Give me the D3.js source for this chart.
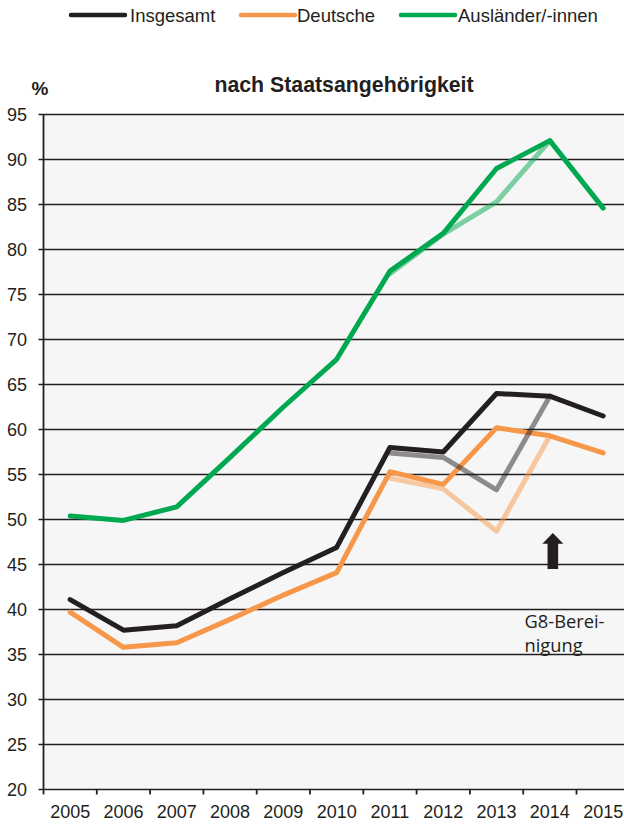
<!DOCTYPE html>
<html>
<head>
<meta charset="utf-8">
<script src="https://cdn.jsdelivr.net/npm/d3@7"></script>
<style>
  html, body { margin: 0; padding: 0; background: #ffffff; }
  svg { display: block; }
</style>
</head>
<body>
<script>
// ---- Data ----
const years = [2005, 2006, 2007, 2008, 2009, 2010, 2011, 2012, 2013, 2014, 2015];
const insgesamt  = [41.1, 37.7, 38.2, 41.2, 44.1, 46.9, 58.0, 57.5, 64.0, 63.7, 61.5];
const deutsche   = [39.7, 35.8, 36.3, 38.9, 41.6, 44.1, 55.3, 53.9, 60.2, 59.3, 57.4];
const auslaender = [50.4, 49.9, 51.4, 56.9, 62.5, 67.8, 77.6, 81.8, 89.0, 92.1, 84.6];
// values before G8 adjustment (faded lines)
const unbYears = [2011, 2012, 2013, 2014];
const insgesamtUnb  = [57.4, 56.9, 53.3, 63.7];
const deutscheUnb   = [54.6, 53.4, 48.7, 59.3];
const auslaenderUnb = [77.3, 81.7, 85.3, 92.1];
const yTicks = [20, 25, 30, 35, 40, 45, 50, 55, 60, 65, 70, 75, 80, 85, 90, 95];
const seriesNames = ["Insgesamt", "Deutsche", "Ausländer/-innen"];
const title = "nach Staatsangehörigkeit";
const unit = "%";
const noteLines = ["G8-Berei-", "nigung"];

// ---- Layout ----
const W = 624, H = 825;
const plotLeft = 43.5, bandW = 53.3;
const plotTop = 114.5, plotBottom = 789.5;
const colors = ["#231f20", "#f7974a", "#00a850"];
const ink = "#231f20";
const font = "'Liberation Sans', Arial, sans-serif";

const svg = d3.select("body").append("svg").attr("width", W).attr("height", H);

const x = d3.scaleBand().domain(years).range([plotLeft, plotLeft + bandW * years.length]).padding(0);
const y = d3.scaleLinear().domain([20, 95]).range([plotBottom, plotTop]);
const cx = d => x(d) + x.bandwidth() / 2;

// plot background
svg.append("rect")
  .attr("x", x.range()[0]).attr("y", y(95))
  .attr("width", W - x.range()[0]).attr("height", y(20) - y(95))
  .attr("fill", "#f6f6f6");

// gridlines
svg.append("g").selectAll("line").data(yTicks).join("line")
  .attr("x1", x.range()[0] - 5).attr("x2", W)
  .attr("y1", d => y(d)).attr("y2", d => y(d))
  .attr("stroke", ink).attr("stroke-width", 1.6);

// y axis line
svg.append("line")
  .attr("x1", x.range()[0]).attr("x2", x.range()[0])
  .attr("y1", y(95)).attr("y2", y(20) + 5)
  .attr("stroke", ink).attr("stroke-width", 1.8);

// x tick marks at band boundaries
svg.append("g").selectAll("line").data(years.slice(1)).join("line")
  .attr("x1", d => x(d)).attr("x2", d => x(d))
  .attr("y1", y(20)).attr("y2", y(20) + 5)
  .attr("stroke", ink).attr("stroke-width", 1.8);

// y tick labels
svg.append("g").selectAll("text").data(yTicks).join("text")
  .attr("x", 27).attr("y", d => y(d))
  .attr("dy", "0.35em")
  .attr("text-anchor", "end")
  .attr("font-family", font).attr("font-size", 18).attr("fill", ink)
  .text(d => d);

// x tick labels
svg.append("g").selectAll("text").data(years).join("text")
  .attr("x", d => cx(d)).attr("y", 818)
  .attr("text-anchor", "middle")
  .attr("font-family", font).attr("font-size", 18).attr("fill", ink)
  .text(d => d);

// title and unit
svg.append("text").attr("x", 344).attr("y", 91.5)
  .attr("text-anchor", "middle").attr("font-family", font)
  .attr("font-size", 21.3).attr("font-weight", "bold").attr("fill", ink)
  .text(title);
svg.append("text").attr("x", 31.5).attr("y", 95)
  .attr("font-family", font)
  .attr("font-size", 19).attr("font-weight", "bold").attr("fill", ink)
  .text(unit);

// lines
const line = d3.line().x(d => cx(d[0])).y(d => y(d[1]));
const mainSeries = [insgesamt, deutsche, auslaender];
const unbSeries = [insgesamtUnb, deutscheUnb, auslaenderUnb];

const plot = svg.append("g");
mainSeries.forEach((vals, i) => {
  plot.append("path")
    .datum(years.map((yr, j) => [yr, vals[j]]))
    .attr("d", line)
    .attr("fill", "none").attr("stroke", colors[i])
    .attr("stroke-width", 5).attr("stroke-linejoin", "round").attr("stroke-linecap", "round");
});
unbSeries.forEach((vals, i) => {
  plot.append("path")
    .datum(unbYears.map((yr, j) => [yr, vals[j]]))
    .attr("d", line)
    .attr("fill", "none").attr("stroke", colors[i]).attr("stroke-opacity", 0.5)
    .attr("stroke-width", 5).attr("stroke-linejoin", "round").attr("stroke-linecap", "round");
});

// arrow annotation at 2014
const ax = cx(2014) + 3;
const tipY = y(48.5), headY = y(47.3), baseY = y(44.5);
svg.append("path")
  .attr("d", `M${ax},${tipY} L${ax + 10.5},${headY} L${ax + 5.3},${headY} L${ax + 5.3},${baseY} L${ax - 5.3},${baseY} L${ax - 5.3},${headY} L${ax - 10.5},${headY} Z`)
  .attr("fill", ink);

svg.append("g").selectAll("text").data(noteLines).join("text")
  .attr("x", 524.5).attr("y", (d, i) => 628.3 + i * 24)
  .attr("font-family", "'Open Sans', 'Noto Sans', sans-serif")
  .attr("font-size", 18.3).attr("fill", ink)
  .text(d => d);

// legend
const legendPos = [{lx: 71, tx: 130}, {lx: 241, tx: 297}, {lx: 401, tx: 458}];
const legend = svg.append("g");
seriesNames.forEach((name, i) => {
  const p = legendPos[i];
  legend.append("line")
    .attr("x1", p.lx).attr("x2", p.lx + 54).attr("y1", 15).attr("y2", 15)
    .attr("stroke", colors[i]).attr("stroke-width", 4.5).attr("stroke-linecap", "round");
  legend.append("text")
    .attr("x", p.tx).attr("y", 22.3)
    .attr("font-family", font).attr("font-size", 18.5).attr("fill", ink)
    .text(name);
});
</script>
</body>
</html>
